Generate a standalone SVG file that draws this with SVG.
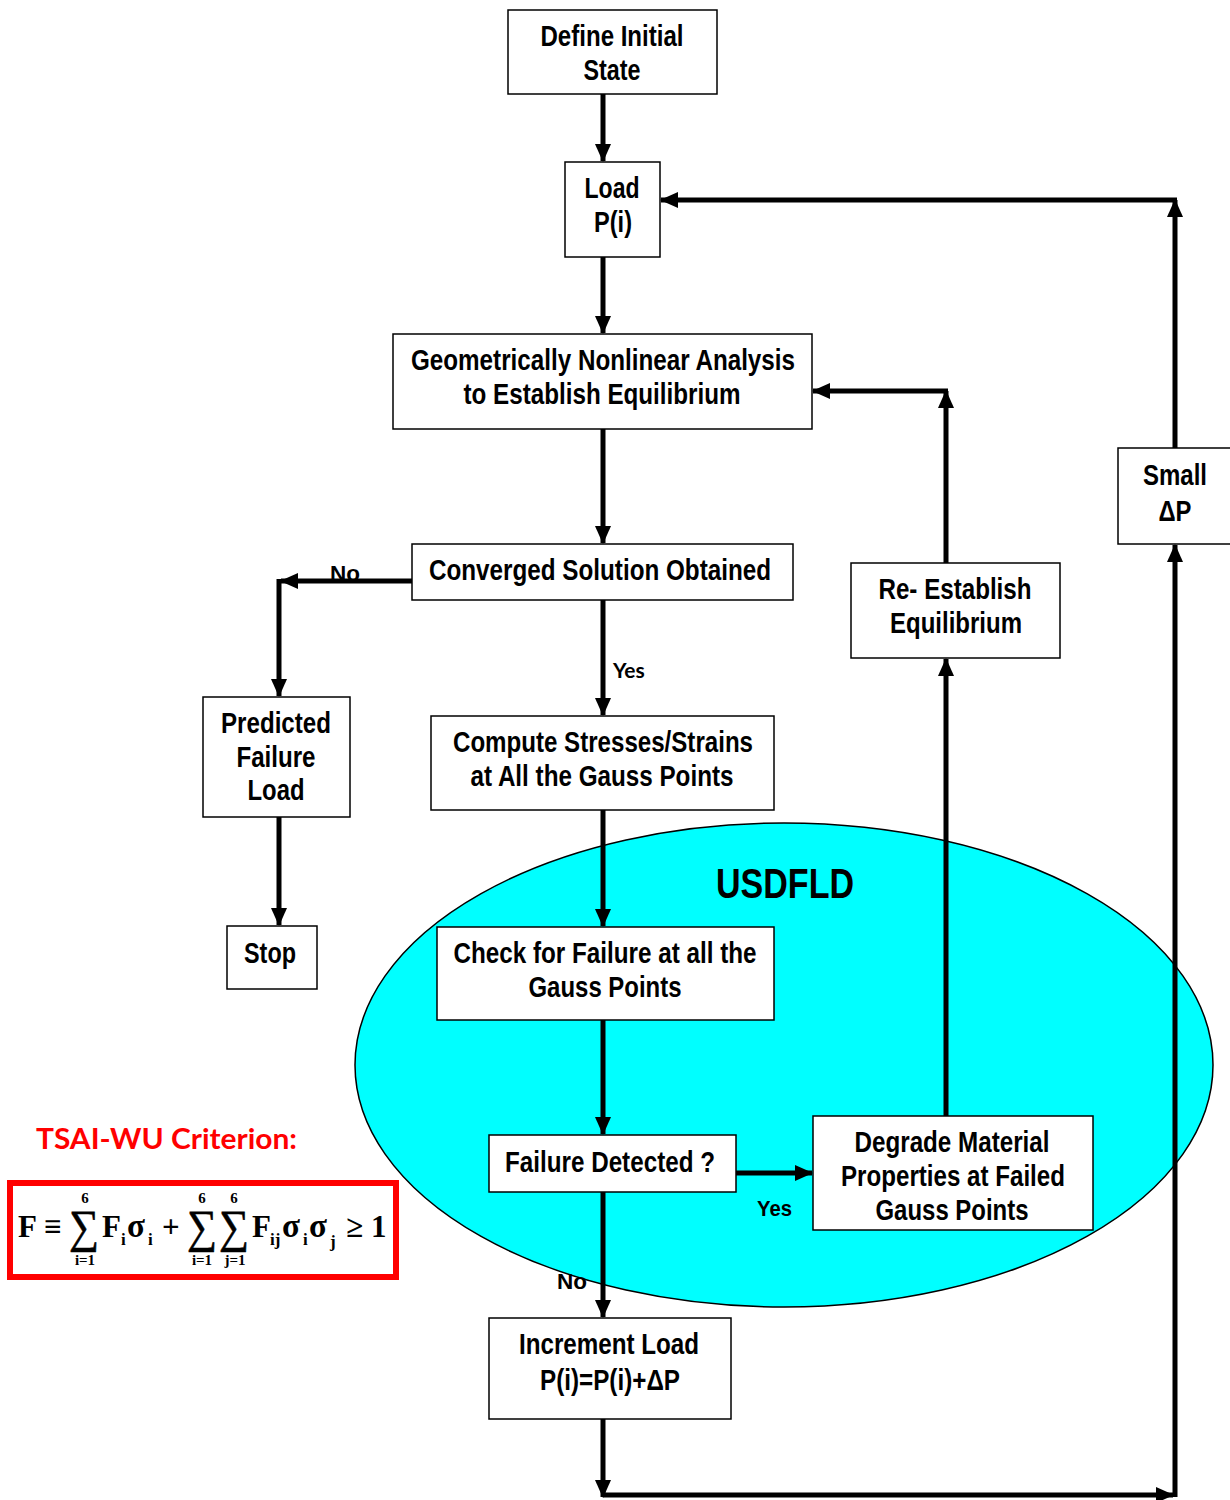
<svg xmlns="http://www.w3.org/2000/svg" width="1230" height="1500" viewBox="0 0 1230 1500">
<defs>
<marker id="ah" markerWidth="18" markerHeight="16" refX="17" refY="8" orient="auto" markerUnits="userSpaceOnUse" viewBox="0 0 18 16">
<path d="M0,0 L18,8 L0,16 z" fill="#000"/>
</marker>
<style>
.box{fill:#fff;stroke:#000;stroke-width:1.5}
.t{font-family:"Liberation Sans",Arial,sans-serif;font-weight:bold;font-size:29px;fill:#000;text-anchor:middle}
.lbl{font-family:"Liberation Sans",Arial,sans-serif;font-weight:bold;font-size:22px;fill:#000}
.cal{font-family:Lato,"Open Sans",sans-serif;font-weight:bold;font-size:21px;fill:#000}
.m{fill:none;stroke:#000;stroke-width:5;marker-end:url(#ah)}
.f{font-family:"Liberation Serif","Times New Roman",serif;font-weight:bold;fill:#000}
.s{font-family:"Liberation Serif","Times New Roman",serif;font-weight:normal;fill:#000;stroke:#000;stroke-width:0.6}
</style>
</defs>
<rect width="1230" height="1500" fill="#fff"/>
<ellipse id="usdfld-region" cx="784" cy="1065" rx="429" ry="242" fill="#00ffff" stroke="#000" stroke-width="1.5"/>
<text x="785" y="898" class="t" style="font-size:42px" textLength="138" lengthAdjust="spacingAndGlyphs">USDFLD</text>

<g id="connectors">
<path class="m" d="M603,94 V161"/>
<path class="m" d="M603,257 V333"/>
<path class="m" d="M603,429 V543"/>
<path class="m" d="M412,581 H281"/>
<path class="m" d="M279,579 V696"/>
<path class="m" d="M279,817 V925"/>
<path class="m" d="M603,600 V715"/>
<path class="m" d="M603,810 V926"/>
<path class="m" d="M603,1020 V1134"/>
<path class="m" d="M736,1173 H812"/>
<path class="m" d="M603,1192 V1317"/>
<path class="m" d="M603,1419 V1497"/>
<path class="m" d="M603,1495 H1173"/>
<path class="m" d="M1175,1497 V545"/>
<path class="m" d="M1175,448 V200"/>
<path class="m" d="M1177,200 H661"/>
<path class="m" d="M946,1116 V659"/>
<path class="m" d="M946,563 V391"/>
<path class="m" d="M948,391 H813"/>
<text x="330" y="581" class="lbl" textLength="30" lengthAdjust="spacingAndGlyphs">No</text>
<text x="613" y="678" class="cal">Yes</text>
<text x="757" y="1216" class="lbl" textLength="35" lengthAdjust="spacingAndGlyphs">Yes</text>
<text x="557" y="1289" class="lbl" textLength="30" lengthAdjust="spacingAndGlyphs">No</text>
</g>

<g id="define-initial-state">
<rect class="box" x="508" y="10" width="209" height="84"/>
<text class="t" x="612" y="46" textLength="143" lengthAdjust="spacingAndGlyphs">Define Initial</text>
<text class="t" x="612" y="80" textLength="57" lengthAdjust="spacingAndGlyphs">State</text>
</g>
<g id="load-pi">
<rect class="box" x="565" y="162" width="95" height="95"/>
<text class="t" x="612" y="198" textLength="55" lengthAdjust="spacingAndGlyphs">Load</text>
<text class="t" x="613" y="232" textLength="38" lengthAdjust="spacingAndGlyphs">P(i)</text>
</g>
<g id="nonlinear-analysis">
<rect class="box" x="393" y="334" width="419" height="95"/>
<text class="t" x="603" y="370" textLength="384" lengthAdjust="spacingAndGlyphs">Geometrically Nonlinear Analysis</text>
<text class="t" x="602" y="404" textLength="277" lengthAdjust="spacingAndGlyphs">to Establish Equilibrium</text>
</g>
<g id="converged">
<rect class="box" x="412" y="544" width="381" height="56"/>
<text class="t" x="600" y="580" textLength="342" lengthAdjust="spacingAndGlyphs">Converged Solution Obtained</text>
</g>
<g id="predicted-failure-load">
<rect class="box" x="203" y="697" width="147" height="120"/>
<text class="t" x="276" y="733" textLength="110" lengthAdjust="spacingAndGlyphs">Predicted</text>
<text class="t" x="276" y="767" textLength="79" lengthAdjust="spacingAndGlyphs">Failure</text>
<text class="t" x="276" y="800" textLength="57" lengthAdjust="spacingAndGlyphs">Load</text>
</g>
<g id="stop">
<rect class="box" x="227" y="926" width="90" height="63"/>
<text class="t" x="270" y="963" textLength="52" lengthAdjust="spacingAndGlyphs">Stop</text>
</g>
<g id="compute-stresses">
<rect class="box" x="431" y="716" width="343" height="94"/>
<text class="t" x="603" y="752" textLength="300" lengthAdjust="spacingAndGlyphs">Compute Stresses/Strains</text>
<text class="t" x="602" y="786" textLength="263" lengthAdjust="spacingAndGlyphs">at All the Gauss Points</text>
</g>
<g id="re-establish">
<rect class="box" x="851" y="563" width="209" height="95"/>
<text class="t" x="955" y="599" textLength="153" lengthAdjust="spacingAndGlyphs">Re- Establish</text>
<text class="t" x="956" y="633" textLength="132" lengthAdjust="spacingAndGlyphs">Equilibrium</text>
</g>
<g id="small-dp">
<rect class="box" x="1118" y="448" width="115" height="96"/>
<text class="t" x="1175" y="485" textLength="64" lengthAdjust="spacingAndGlyphs">Small</text>
<text class="t" x="1175" y="521" textLength="33" lengthAdjust="spacingAndGlyphs">ΔP</text>
</g>
<g id="check-failure">
<rect class="box" x="437" y="927" width="337" height="93"/>
<text class="t" x="605" y="963" textLength="303" lengthAdjust="spacingAndGlyphs">Check for Failure at all the</text>
<text class="t" x="605" y="997" textLength="153" lengthAdjust="spacingAndGlyphs">Gauss Points</text>
</g>
<g id="failure-detected">
<rect class="box" x="489" y="1135" width="247" height="57"/>
<text class="t" x="610" y="1172" textLength="210" lengthAdjust="spacingAndGlyphs">Failure Detected ?</text>
</g>
<g id="degrade">
<rect class="box" x="813" y="1116" width="280" height="114"/>
<text class="t" x="952" y="1152" textLength="195" lengthAdjust="spacingAndGlyphs">Degrade Material</text>
<text class="t" x="953" y="1186" textLength="224" lengthAdjust="spacingAndGlyphs">Properties at Failed</text>
<text class="t" x="952" y="1220" textLength="153" lengthAdjust="spacingAndGlyphs">Gauss Points</text>
</g>
<g id="increment-load">
<rect class="box" x="489" y="1318" width="242" height="101"/>
<text class="t" x="609" y="1354" textLength="180" lengthAdjust="spacingAndGlyphs">Increment Load</text>
<text class="t" x="610" y="1390" textLength="140" lengthAdjust="spacingAndGlyphs">P(i)=P(i)+ΔP</text>
</g>

<g id="tsai-wu">
<text x="36" y="1149" textLength="261" lengthAdjust="spacingAndGlyphs" style="font-family:Lato,'Open Sans',sans-serif;font-weight:bold;font-size:28px;fill:#ff0000">TSAI-WU Criterion:</text>
<rect x="10" y="1183" width="386" height="94" fill="none" stroke="#ff0000" stroke-width="6"/>
<text class="f" x="18" y="1237" font-size="31">F</text>
<text class="f" x="44" y="1237" font-size="31">≡</text>
<text class="s" x="69" y="1242" font-size="46" textLength="30" lengthAdjust="spacingAndGlyphs">∑</text>
<text class="f" x="85" y="1203" font-size="15" text-anchor="middle">6</text>
<text class="f" x="85" y="1265" font-size="15" text-anchor="middle">i=1</text>
<text class="f" x="102" y="1237" font-size="31">F</text>
<text class="f" x="121" y="1245" font-size="17">i</text>
<text class="f" x="127" y="1237" font-size="33">σ</text>
<text class="f" x="148" y="1245" font-size="17">i</text>
<text class="f" x="162" y="1237" font-size="31">+</text>
<text class="s" x="187" y="1242" font-size="46" textLength="30" lengthAdjust="spacingAndGlyphs">∑</text>
<text class="f" x="202" y="1203" font-size="15" text-anchor="middle">6</text>
<text class="f" x="202" y="1265" font-size="15" text-anchor="middle">i=1</text>
<text class="s" x="219" y="1242" font-size="46" textLength="30" lengthAdjust="spacingAndGlyphs">∑</text>
<text class="f" x="234" y="1203" font-size="15" text-anchor="middle">6</text>
<text class="f" x="235" y="1265" font-size="15" text-anchor="middle">j=1</text>
<text class="f" x="252" y="1237" font-size="31">F</text>
<text class="f" x="270" y="1245" font-size="17">ij</text>
<text class="f" x="282" y="1237" font-size="33">σ</text>
<text class="f" x="303" y="1245" font-size="17">i</text>
<text class="f" x="309" y="1237" font-size="33">σ</text>
<text class="f" x="330" y="1247" font-size="17">j</text>
<text class="f" x="346" y="1237" font-size="31">≥</text>
<text class="f" x="371" y="1237" font-size="31">1</text>
</g>
</svg>
